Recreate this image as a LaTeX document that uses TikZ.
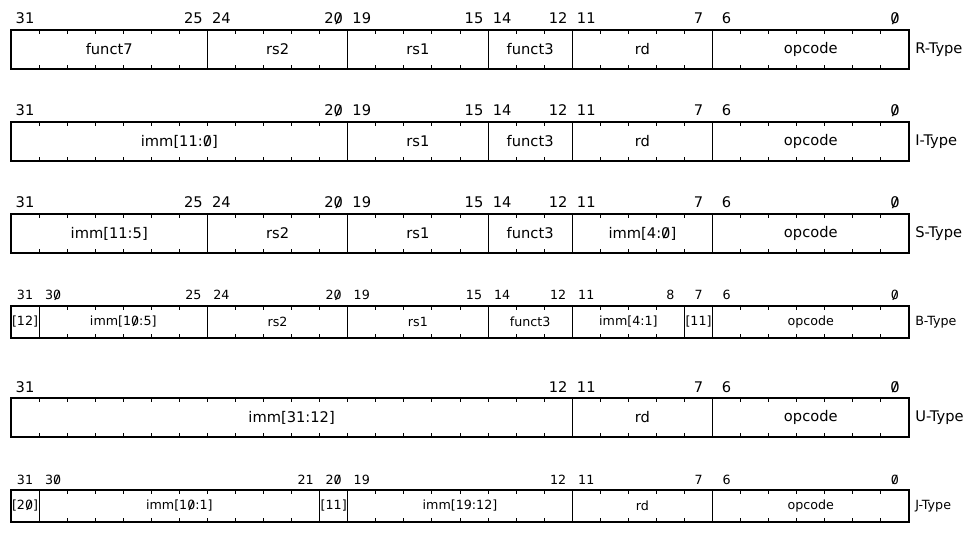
\documentclass[tikz,border=0pt]{standalone}
\usepackage{fontspec}
\setmainfont{DejaVu Sans}
\usetikzlibrary{positioning}

% zero with a slash, and bit numbers written with it
\newcommand{\slashzero}{\ooalign{0\cr\hidewidth\raisebox{0.06em}{\scalebox{1.25}[0.88]{/}}\hidewidth\cr}}
\def\bitnum#1{\expandafter\bitnumi#1\relax}
\def\bitnumi#1{\ifx#1\relax\else\ifx#10\slashzero\else#1\fi\expandafter\bitnumi\fi}

\begin{document}
\begin{tikzpicture}[
    x=0.75pt, y=-0.75pt,
    frame/.style={draw, line width=0.8pt},
    divider/.style={draw, line width=0.7pt},
    tick/.style={line width=0.7pt},
    big/.style={font=\fontsize{11}{13}\selectfont, inner sep=0pt},
    small/.style={font=\fontsize{9.5}{11}\selectfont, inner sep=0pt},
    typelabel/.style={anchor=west, inner sep=0pt}
]
\useasboundingbox (0,0) rectangle (978,538);

% One row per instruction format: type/top/height/text size/fields
\foreach \type/\rowy/\rowh/\sz/\fields in {
    R/30/39/big/{31/25/funct7, 24/20/rs2, 19/15/rs1, 14/12/funct3, 11/7/rd, 6/0/opcode},
    I/122/39/big/{31/20/{imm[11:\slashzero]}, 19/15/rs1, 14/12/funct3, 11/7/rd, 6/0/opcode},
    S/214/39/big/{31/25/{imm[11:5]}, 24/20/rs2, 19/15/rs1, 14/12/funct3, 11/7/{imm[4:\slashzero]}, 6/0/opcode},
    B/306/32/small/{31/31/{[12]}, 30/25/{imm[1\slashzero:5]}, 24/20/rs2, 19/15/rs1, 14/12/funct3, 11/8/{imm[4:1]}, 7/7/{[11]}, 6/0/opcode},
    U/398/39/big/{31/12/{imm[31:12]}, 11/7/rd, 6/0/opcode},
    J/490/32/small/{31/31/{[2\slashzero]}, 30/21/{imm[1\slashzero:1]}, 20/20/{[11]}, 19/12/{imm[19:12]}, 11/7/rd, 6/0/opcode}%
}{
    % bit ticks
    \foreach \k in {1,...,31} {
        \draw[tick] ({11+\k*28.0625},\rowy) -- ++(0,4);
        \draw[tick] ({11+\k*28.0625},\rowy+\rowh) -- ++(0,-4);
    }
    % fields and bit numbers
    \foreach \m/\l/\name in \fields {
        \pgfmathsetmacro\xa{11+(31-\m)*28.0625}
        \pgfmathsetmacro\xb{11+(32-\l)*28.0625}
        \pgfmathsetmacro\ym{\rowy+\rowh/2}
        \draw[divider] (\xa,\rowy) -- (\xa,\rowy+\rowh);
        \node[\sz] (\type-\l) at ({(\xa+\xb)/2},\ym) {\name};
        \node[\sz, anchor=base] (\type-b\m) at ({\xa+14.03},\rowy-6) {\bitnum{\m}};
        \ifnum\m=\l\else
            \node[\sz, anchor=base] (\type-b\l) at ({\xb-14.03},\rowy-6) {\bitnum{\l}};
        \fi
    }
    % outline and format name
    \draw[frame] (11,\rowy) rectangle (909,\rowy+\rowh);
    \node[\sz, typelabel] (\type-name) at (915,\rowy+\rowh/2) {\type-Type};
}

\end{tikzpicture}
\end{document}
